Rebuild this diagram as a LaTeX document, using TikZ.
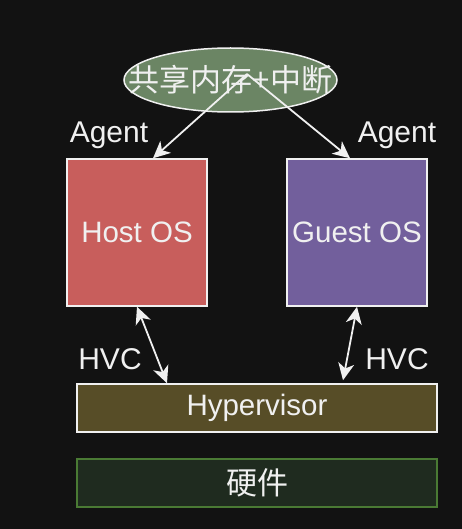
\documentclass[tikz,border=0pt]{standalone}
\usepackage{fontspec}
\setmainfont{Liberation Sans}
\newfontfamily\cjk{Noto Sans CJK SC}
\usetikzlibrary{calc, shapes.geometric, arrows.meta, positioning}

\definecolor{bgcol}{HTML}{121212}
\definecolor{shmcol}{HTML}{6B8564}
\definecolor{hostcol}{HTML}{C85E5C}
\definecolor{guestcol}{HTML}{725F9C}
\definecolor{hypcol}{HTML}{574D27}
\definecolor{hwcol}{HTML}{1F2B1F}
\definecolor{hwline}{HTML}{4A7A34}
\definecolor{fgcol}{HTML}{F0F0F0}

\begin{document}
\begin{tikzpicture}[x=1pt, y=-1pt,
        osbox/.style={draw=fgcol, line width=1.5pt, minimum width=140pt, minimum height=147pt, text=fgcol, font=\fontsize{29.5}{34}\selectfont},
        layer/.style={draw=fgcol, line width=1.5pt, minimum width=360pt, minimum height=48pt, text=fgcol},
        lbl/.style={text=fgcol, font=\fontsize{30}{34}\selectfont},
        link/.style={draw=fgcol, line width=1.8pt, -{Stealth[length=17pt, width=16pt, inset=5pt]}},
        hvc/.style={draw=fgcol, line width=1.8pt, {Stealth[length=17pt, width=16pt, inset=5pt]}-{Stealth[length=17pt, width=16pt, inset=5pt]}}
    ]
        % background and size
        \fill[bgcol] (0,0) rectangle (462,529);
        \useasboundingbox (0,0) rectangle (462,529);

        % shared memory
        \node[ellipse, draw=fgcol, fill=shmcol, line width=1.5pt, minimum width=213pt, minimum height=64pt, inner sep=0pt] (shm) at (230.5,80) {};
        \node[text=fgcol, font=\cjk\fontsize{31}{35}\selectfont, inner sep=0pt] (shmtext) at (shm.center) {共享内存+中断};

        % virtual machines
        \node[osbox, fill=hostcol] (host) at (137,232.5) {Host OS};
        \node[osbox, fill=guestcol] (guest) at (357,232.5) {Guest OS};
        \node[lbl] (agentl) at (109,135) {Agent};
        \node[lbl] (agentr) at (397,135) {Agent};

        % layers
        \node[layer, fill=hypcol, font=\fontsize{29.5}{34}\selectfont] (hyp) at (257,408) {Hypervisor};
        \node[layer, draw=hwline, fill=hwcol, font=\cjk\fontsize{31}{35}\selectfont] (hw) at (257,483) {硬件};

        % connections
        \coordinate (src) at (247,74);
        \draw[link] (src) -- ([xshift=16pt]host.north);
        \draw[link] (src) -- ([xshift=-7pt]guest.north);
        \draw[hvc] (host.south) -- ([xshift=-90pt]hyp.north);
        \draw[hvc] (guest.south) -- ([xshift=86pt,yshift=3pt]hyp.north);
        \node[lbl] (hvcl) at (110,359) {HVC};
        \node[lbl] (hvcr) at (397,359) {HVC};
\end{tikzpicture}
\end{document}
